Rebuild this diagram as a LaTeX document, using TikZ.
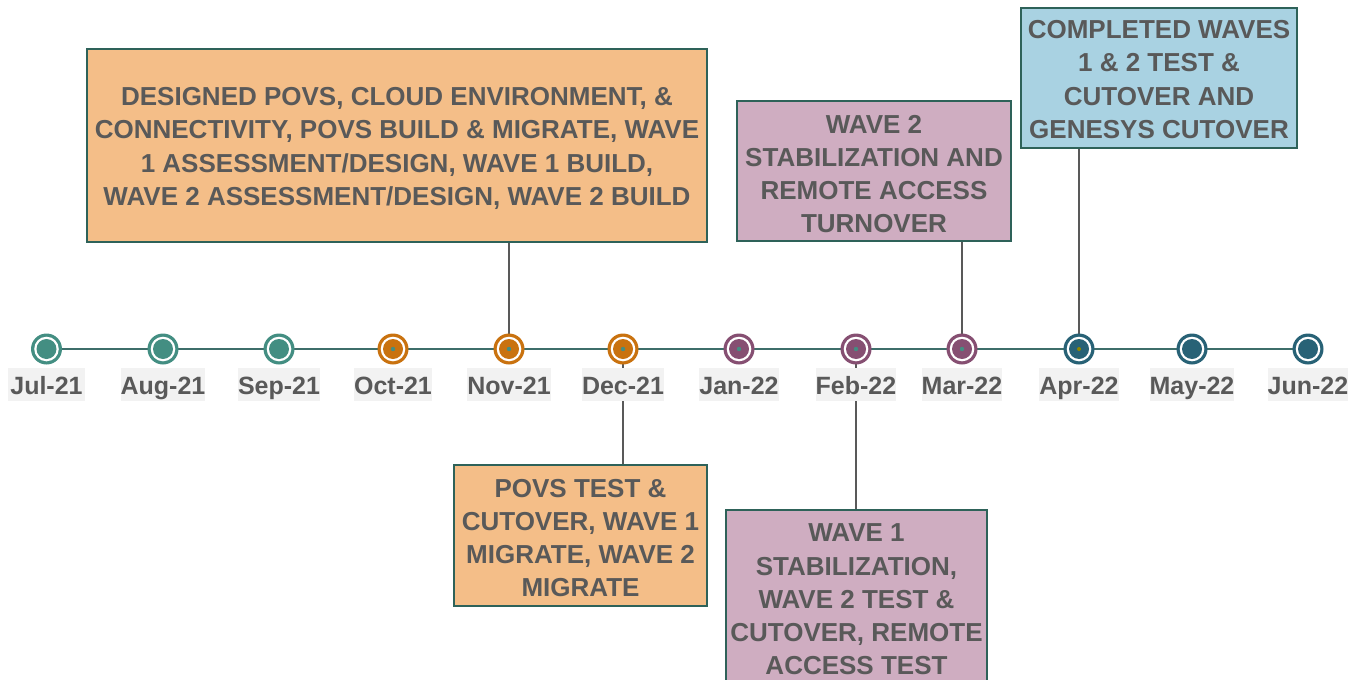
\documentclass[tikz,border=0pt]{standalone}
\usepackage{fontspec}
\setmainfont{Liberation Sans}
\definecolor{txt}{HTML}{595959}
\definecolor{tline}{HTML}{3E6E6A}
\definecolor{cteal}{HTML}{438E82}
\definecolor{corange}{HTML}{C9720F}
\definecolor{cpurple}{HTML}{864F72}
\definecolor{cblue}{HTML}{286276}
\definecolor{forange}{HTML}{F4BE88}
\definecolor{fpurple}{HTML}{CFADC1}
\definecolor{fblue}{HTML}{A9D2E2}
\definecolor{bord}{HTML}{2E6259}
\definecolor{lblbg}{HTML}{F2F2F2}
\tikzset{
  mlabel/.style={fill=lblbg, text=txt, font=\fontsize{25}{26}\selectfont\bfseries, minimum width=77pt, text height=22pt, text depth=2pt, inner ysep=4.5pt, inner xsep=0pt},
  evbox/.style={draw=bord, line width=1.6pt, inner sep=0pt},
  evtext/.style={text=txt, align=center, inner sep=0pt, font=\fontsize{26}{33.2}\selectfont\bfseries},
  conn/.style={draw=txt, line width=2pt},
}
\newcommand{\marker}[2]{%
  \fill[#1] (#2) circle (15.5pt);
  \fill[white] (#2) circle (12.3pt);
  \fill[#1] (#2) circle (10pt);
}
\begin{document}
\begin{tikzpicture}[x=1pt,y=-1pt]
\clip (0,0) rectangle (1366,680);
\useasboundingbox (0,0) rectangle (1366,680);
% marker coordinates
\coordinate (m1) at (46.5,349);
\coordinate (m2) at (163,349);
\coordinate (m3) at (279,349);
\coordinate (m4) at (393,349);
\coordinate (m5) at (509,349);
\coordinate (m6) at (623,349);
\coordinate (m7) at (739,349);
\coordinate (m8) at (856,349);
\coordinate (m9) at (962,349);
\coordinate (m10) at (1079,349);
\coordinate (m11) at (1192,349);
\coordinate (m12) at (1308,349);
% event boxes
\node[evbox, fill=forange, minimum width=620pt, minimum height=193pt] (b1) at (397,145.5) {};
\node[evtext] (t1) at (397,148.5)
  {DESIGNED POVS, CLOUD ENVIRONMENT, \&\\CONNECTIVITY, POVS BUILD \& MIGRATE, WAVE\\1 ASSESSMENT/DESIGN, WAVE 1 BUILD,\\WAVE 2 ASSESSMENT/DESIGN, WAVE 2 BUILD};
\node[evbox, fill=fpurple, minimum width=274pt, minimum height=140pt] (b2) at (874,171) {};
\node[evtext] (t2) at (874,174)
  {WAVE 2\\STABILIZATION AND\\REMOTE ACCESS\\TURNOVER};
\node[evbox, fill=fblue, minimum width=276pt, minimum height=140pt] (b3) at (1159,78) {};
\node[evtext] (t3) at (1159,79.5)
  {COMPLETED WAVES\\1 \& 2 TEST \&\\CUTOVER AND\\GENESYS CUTOVER};
\node[evbox, fill=forange, minimum width=253pt, minimum height=141pt] (b4) at (580.5,535.5) {};
\node[evtext] (t4) at (580.5,538)
  {POVS TEST \&\\CUTOVER, WAVE 1\\MIGRATE, WAVE 2\\MIGRATE};
\node[evbox, fill=fpurple, minimum width=261pt, minimum height=176pt] (b5) at (856.5,598) {};
\node[evtext] (t5) at (856.5,599.5)
  {WAVE 1\\STABILIZATION,\\WAVE 2 TEST \&\\CUTOVER, REMOTE\\ACCESS TEST};
% connectors
\draw[conn] (b1.south -| m5) -- (m5);
\draw[conn] (b2.south -| m9) -- (m9);
\draw[conn] (b3.south -| m10) -- (m10);
\draw[conn] (m6) -- (b4.north -| m6);
\draw[conn] (m8) -- (b5.north -| m8);
% timeline
\draw[tline, line width=2pt] (m1) -- (m12);
% markers
\marker{cteal}{m1}
\marker{cteal}{m2}
\marker{cteal}{m3}
\marker{corange}{m4}
\marker{corange}{m5}
\marker{corange}{m6}
\marker{cpurple}{m7}
\marker{cpurple}{m8}
\marker{cpurple}{m9}
\marker{cblue}{m10}
\marker{cblue}{m11}
\marker{cblue}{m12}
\foreach \i in {4,...,9} {\fill[cteal] (m\i) circle (2.2pt);}
\fill[olive] (m10) circle (2pt);
% month labels
\node[mlabel] (l1) at (46.5,384) {Jul-21};
\node[mlabel] (l2) at (163,384) {Aug-21};
\node[mlabel] (l3) at (279,384) {Sep-21};
\node[mlabel] (l4) at (393,384) {Oct-21};
\node[mlabel] (l5) at (509,384) {Nov-21};
\node[mlabel] (l6) at (623,384) {Dec-21};
\node[mlabel] (l7) at (739,384) {Jan-22};
\node[mlabel] (l8) at (856,384) {Feb-22};
\node[mlabel] (l9) at (962,384) {Mar-22};
\node[mlabel] (l10) at (1079,384) {Apr-22};
\node[mlabel] (l11) at (1192,384) {May-22};
\node[mlabel] (l12) at (1308,384) {Jun-22};
\end{tikzpicture}
\end{document}
